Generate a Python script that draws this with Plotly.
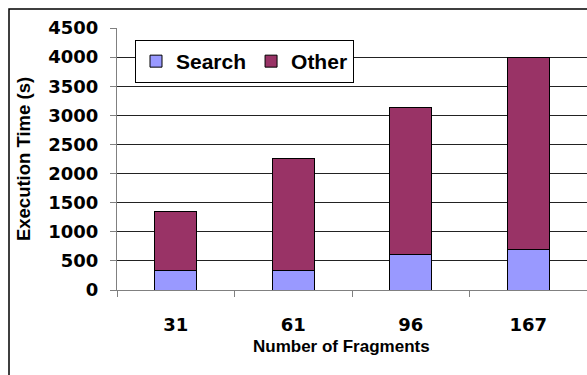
import plotly.graph_objects as go

categories = ["31", "61", "96", "167"]
search = [338, 338, 613, 693]
other = [1007, 1925, 2526, 3305]
y_ticks = [0, 500, 1000, 1500, 2000, 2500, 3000, 3500, 4000, 4500]

tick_font = dict(family="DejaVu Sans", size=18, color="black", weight="bold")
title_font = dict(family="Liberation Sans, Arial", size=17, color="black", weight="bold")
ytitle_font = dict(family="Liberation Sans, Arial", size=18.5, color="black", weight="bold")

fig = go.Figure()
fig.add_trace(go.Bar(x=categories, y=search, name="Search",
                     marker=dict(color="#9999FF", line=dict(color="black", width=1))))
fig.add_trace(go.Bar(x=categories, y=other, name="Other",
                     marker=dict(color="#993366", line=dict(color="black", width=1))))

W, H = 587, 375
ml, mr, mt, mb = 117, 0, 28, 85
pw, ph = W - ml - mr, H - mt - mb

def px(x):
    return (x - ml) / pw

def py(y):
    return (H - mb - y) / ph

fig.update_layout(
    width=W, height=H,
    margin=dict(l=ml, r=mr, t=mt, b=mb, autoexpand=False),
    barmode="stack",
    bargap=0.643,
    plot_bgcolor="white",
    paper_bgcolor="white",
    showlegend=True,
    legend=dict(
        orientation="h",
        x=px(135), y=py(40), xanchor="left", yanchor="top",
        bordercolor="black", borderwidth=1, bgcolor="white",
        font=dict(family="Liberation Sans, Arial", size=21, color="black", weight="bold"),
        traceorder="normal",
    ),
    xaxis=dict(
        type="category",
        tickfont=tick_font,
        ticks="outside", ticklen=6, tickcolor="#808080", tickwidth=1,
        tickson="boundaries",
        showline=True, linecolor="#808080", linewidth=1,
        showgrid=False,
        ticklabelstandoff=18,
    ),
    yaxis=dict(
        range=[0, 4500],
        tickvals=y_ticks,
        tickfont=tick_font,
        ticks="outside", ticklen=6, tickcolor="#808080", tickwidth=1,
        showline=True, linecolor="#808080", linewidth=1,
        showgrid=True, gridcolor="#222222", gridwidth=1,
        zeroline=False,
        ticklabelstandoff=8,
        title=dict(text="Execution Time (s)", font=ytitle_font, standoff=12),
    ),
    annotations=[
        dict(text="Number of Fragments", xref="paper", yref="paper",
             x=px(341), y=py(346), xanchor="center", yanchor="middle",
             showarrow=False, font=title_font),
    ],
    shapes=[
        dict(type="rect", xref="paper", yref="paper",
             x0=px(9), x1=px(600), y0=py(400), y1=py(9),
             line=dict(color="black", width=1.5), layer="above"),
    ],
)

fig.write_html("out.html")
